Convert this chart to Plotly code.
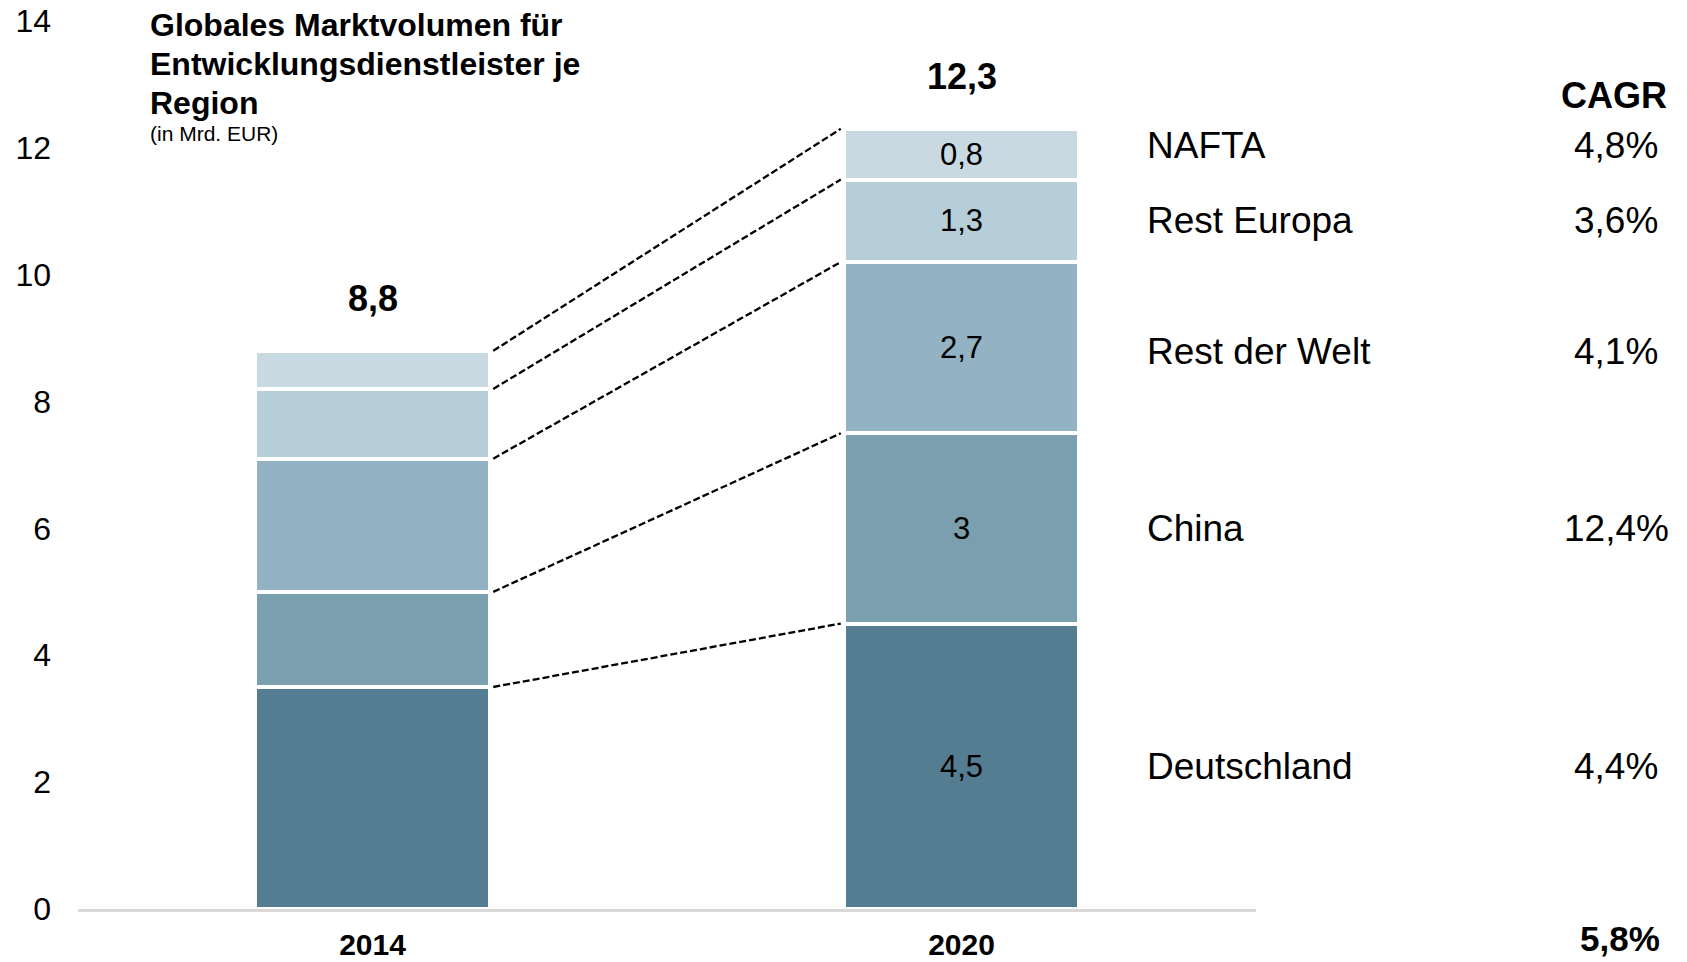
import plotly.graph_objects as go
import numpy as np

years = ["2014", "2020"]
regions = ["Deutschland", "China", "Rest der Welt", "Rest Europa", "NAFTA"]
values_2014 = [3.5, 1.5, 2.1, 1.1, 0.6]
values_2020 = [4.5, 3.0, 2.7, 1.3, 0.8]
cagr = ["4,4%", "12,4%", "4,1%", "3,6%", "4,8%"]
totals = ["8,8", "12,3"]
cagr_total = "5,8%"
colors = ["#547D91", "#7AA0AF", "#93B2C3", "#B6CED8", "#C8D9E1"]

OFF = 8  # page body margin
W, H = 1687 - OFF, 962 - OFF
L, T = 78 - OFF, 21 - OFF
R = W - (1256 - OFF)
B = H - (909 - OFF)
FONT = "Liberation Sans, Arial, sans-serif"

def px_x(px):
    return (px - OFF - L) / (W - L - R)

def px_y(py):
    return (H - B - (py - OFF)) / (H - T - B)

def fmt(v):
    return f"{v:g}".replace(".", ",")

fig = go.Figure()
xs = [0, 1]
for i, reg in enumerate(regions):
    fig.add_trace(go.Bar(
        x=xs, y=[values_2014[i], values_2020[i]], name=reg,
        width=0.4,
        marker=dict(color=colors[i], line=dict(color="white", width=4)),
        text=["", fmt(values_2020[i])],
        textposition="inside", insidetextanchor="middle", textangle=0,
        textfont=dict(family=FONT, size=31, color="black"),
        hoverinfo="skip",
    ))

cum14 = np.cumsum(values_2014)
cum20 = np.cumsum(values_2020)
for a, b in zip(cum14, cum20):
    fig.add_trace(go.Scatter(
        x=[0.205, 0.795], y=[a, b], mode="lines",
        line=dict(color="black", width=2.3, dash="7px,3px"),
        hoverinfo="skip", showlegend=False,
    ))

ann = []
for x, tot, s in zip(xs, totals, [cum14[-1], cum20[-1]]):
    ann.append(dict(x=x, y=s, xref="x", yref="y", text=f"<b>{tot}</b>",
                    showarrow=False, yanchor="middle", yshift=52,
                    font=dict(family=FONT, size=36, color="black")))

mids = cum20 - np.array(values_2020) / 2
shifts = [0, 0, -4, 0, 9]
for i, reg in enumerate(regions):
    ann.append(dict(x=px_x(1145), y=mids[i], xref="paper", yref="y", text=reg,
                    showarrow=False, xanchor="left", yanchor="middle", yshift=shifts[i],
                    font=dict(family=FONT, size=37, color="black")))
    ann.append(dict(x=px_x(1616), y=mids[i], xref="paper", yref="y", text=cagr[i],
                    showarrow=False, xanchor="center", yanchor="middle", yshift=shifts[i],
                    font=dict(family=FONT, size=37, color="black")))

ann.append(dict(x=px_x(1614), y=px_y(95), xref="paper", yref="paper", text="<b>CAGR</b>",
                showarrow=False, xanchor="center", yanchor="middle",
                font=dict(family=FONT, size=36, color="black")))
ann.append(dict(x=px_x(1620), y=px_y(938), xref="paper", yref="paper", text=f"<b>{cagr_total}</b>",
                showarrow=False, xanchor="center", yanchor="middle",
                font=dict(family=FONT, size=35, color="black")))

title_lines = ["Globales Marktvolumen für", "Entwicklungsdienstleister je", "Region"]
for line, py in zip(title_lines, [25, 64, 103]):
    ann.append(dict(x=px_x(148), y=px_y(py), xref="paper", yref="paper", text=f"<b>{line}</b>",
                    showarrow=False, xanchor="left", yanchor="middle",
                    font=dict(family=FONT, size=32, color="black")))
ann.append(dict(x=px_x(148), y=px_y(134), xref="paper", yref="paper", text="(in Mrd. EUR)",
                showarrow=False, xanchor="left", yanchor="middle",
                font=dict(family=FONT, size=21, color="black")))

fig.update_layout(
    width=W, height=H, barmode="stack", showlegend=False,
    margin=dict(l=L, r=R, t=T, b=B, autoexpand=False),
    plot_bgcolor="white", paper_bgcolor="white",
    font=dict(family=FONT, color="black"),
    annotations=ann,
    xaxis=dict(range=[-0.5, 1.5], tickvals=xs, ticktext=[f"<b>{y}</b>" for y in years],
               tickfont=dict(family=FONT, size=30, color="black"),
               showline=True, linecolor="#D9D9D9", linewidth=3, automargin=False,
               showgrid=False, zeroline=False, ticks="", ticklabelstandoff=7,
               ticklabeloverflow="allow"),
    yaxis=dict(range=[0, 14], tickvals=list(range(0, 15, 2)),
               tickfont=dict(family=FONT, size=32, color="black"),
               showgrid=False, zeroline=False, showline=False, ticks="", automargin=False,
               ticklabelstandoff=26, ticklabeloverflow="allow"),
)

fig.write_html("out.html")
